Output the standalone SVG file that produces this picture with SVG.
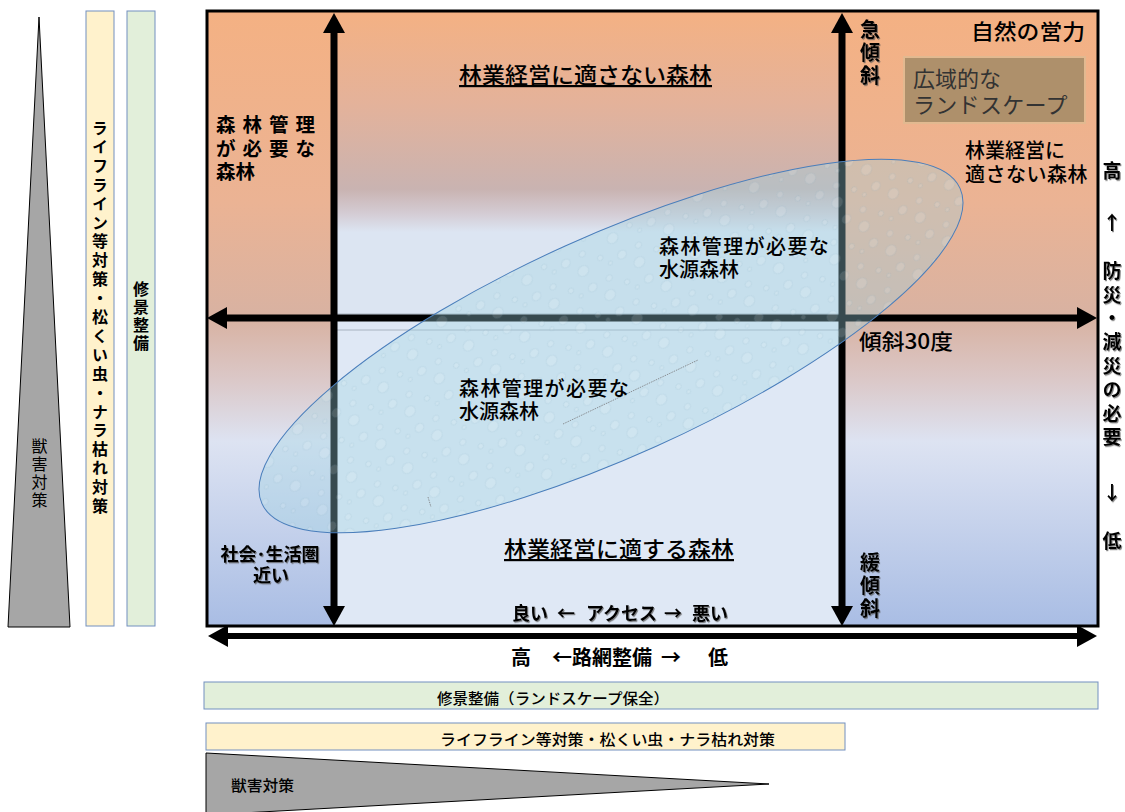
<svg xmlns="http://www.w3.org/2000/svg" width="1125" height="812" viewBox="0 0 1125 812">
<defs>
<style>
.t{font-family:'Noto Sans CJK JP','Noto Sans CJK SC',sans-serif;fill:#000}
.b{font-weight:700}
.m{font-weight:500}
.v{writing-mode:vertical-rl}
.sh{filter:url(#shadow)}
.ax{stroke:#000;stroke-width:7;fill:none;marker-start:url(#ah);marker-end:url(#ah)}
.ax2{stroke:#000;stroke-width:6;fill:none;marker-start:url(#ah);marker-end:url(#ah)}
.bar{stroke:#7290c0;stroke-width:1}
.gl{stroke:#9aa6b2;stroke-width:0.8}
</style>
<linearGradient id="gSide" x1="0" y1="11" x2="0" y2="626" gradientUnits="userSpaceOnUse">
<stop offset="0" stop-color="#f4b183"/>
<stop offset="0.31" stop-color="#ebb394"/>
<stop offset="0.5" stop-color="#d8b2a2"/>
<stop offset="0.6" stop-color="#dbc8c8"/>
<stop offset="0.7" stop-color="#dde3f2"/>
<stop offset="1" stop-color="#a9bde4"/>
</linearGradient>
<linearGradient id="gMid" x1="0" y1="11" x2="0" y2="318" gradientUnits="userSpaceOnUse">
<stop offset="0" stop-color="#f4b183"/>
<stop offset="0.3" stop-color="#e4b29a"/>
<stop offset="0.58" stop-color="#c9b3b1"/>
<stop offset="0.66" stop-color="#d4ccd4"/>
<stop offset="0.72" stop-color="#dce5f2"/>
<stop offset="1" stop-color="#dce5f2"/>
</linearGradient>
<marker id="ah" viewBox="0 0 20 22" refX="2" refY="11" markerWidth="20" markerHeight="22" markerUnits="userSpaceOnUse" orient="auto-start-reverse">
<path d="M0,0 L20,11 L0,22 Z" fill="#000"/>
</marker>
<filter id="shadow" x="-20%" y="-20%" width="140%" height="140%">
<feDropShadow dx="1" dy="1.2" stdDeviation="0.7" flood-color="#555" flood-opacity="0.7"/>
</filter>
<pattern id="drops" width="44" height="36" patternUnits="userSpaceOnUse" patternTransform="rotate(-24)">
<g fill="#ffffff" fill-opacity="0.12" stroke="#4f86a3" stroke-opacity="0.14" stroke-width="0.8">
<ellipse cx="9" cy="8" rx="5" ry="4"/>
<ellipse cx="27" cy="14" rx="3.5" ry="3"/>
<ellipse cx="15" cy="26" rx="6" ry="5"/>
<ellipse cx="36" cy="30" rx="3" ry="2.6"/>
<ellipse cx="39" cy="5" rx="2.2" ry="2"/>
</g>
</pattern>
</defs>

<g id="background">
<rect x="207" y="11" width="127" height="615" fill="url(#gSide)"/>
<rect x="842" y="11" width="256" height="615" fill="url(#gSide)"/>
<rect x="334" y="11" width="508" height="307" fill="url(#gMid)"/>
<rect x="334" y="318" width="508" height="308" fill="#dfe8f5"/>
<line class="gl" x1="337" y1="314" x2="842" y2="314"/>
<line class="gl" x1="337" y1="330" x2="842" y2="330"/>
<rect x="207" y="11" width="891" height="615" fill="none" stroke="#000" stroke-width="3"/>
</g>

<g id="connectors">
<line class="ax" x1="334" y1="31" x2="334" y2="608"/>
<line class="ax" x1="842" y1="31" x2="842" y2="608"/>
<line class="ax" x1="225" y1="318" x2="1079" y2="318"/>
<line class="ax2" x1="226" y1="636" x2="1079" y2="636"/>
</g>

<g id="water-forest-ellipse">
<ellipse cx="611" cy="346" rx="383" ry="110" transform="rotate(-24.3 611 346)" fill="#9dd5e3" fill-opacity="0.35"/>
<ellipse cx="611" cy="346" rx="383" ry="110" transform="rotate(-24.3 611 346)" fill="url(#drops)" stroke="#4a7ebb" stroke-width="1"/>
<line x1="563" y1="424" x2="698" y2="360" stroke="#8a8f94" stroke-width="1" stroke-dasharray="1.5 1"/>
<line x1="428" y1="497" x2="431" y2="507" stroke="#8a8f94" stroke-width="1" stroke-dasharray="1.5 1"/>
<text class="t m" font-size="20"><tspan x="659" y="254" letter-spacing="1.4">森林管理が必要な</tspan><tspan x="659" y="277">水源森林</tspan></text>
<text class="t m" font-size="20"><tspan x="459" y="396" letter-spacing="1.4">森林管理が必要な</tspan><tspan x="459" y="419">水源森林</tspan></text>
</g>

<g id="unsuitable-top">
<text class="t m" x="459" y="83" font-size="22" textLength="253" lengthAdjust="spacingAndGlyphs" text-decoration="underline">林業経営に適さない森林</text>
</g>

<g id="managed-forest-left">
<text class="t b" font-size="19.5"><tspan x="216" y="132" letter-spacing="7">森林管理</tspan><tspan x="216" y="156" letter-spacing="7">が必要な</tspan><tspan x="216" y="179">森林</tspan></text>
</g>

<g id="steep-slope">
<text class="t b v sh" x="870" y="19" font-size="20" letter-spacing="3">急傾斜</text>
</g>

<g id="natural-force">
<text class="t m" x="971" y="39" font-size="21" textLength="114" lengthAdjust="spacingAndGlyphs">自然の営力</text>
</g>

<g id="landscape-box">
<rect x="904" y="57" width="181" height="66" fill="#ae906b" stroke="#e2b990" stroke-width="2"/>
<text class="t" font-size="22" style="fill:#333"><tspan x="913" y="87">広域的な</tspan><tspan x="913" y="113" letter-spacing="0.3">ランドスケープ</tspan></text>
</g>

<g id="unsuitable-right">
<text class="t m" font-size="20"><tspan x="965" y="158">林業経営に</tspan><tspan x="965" y="182" letter-spacing="0.5">適さない森林</tspan></text>
</g>

<g id="disaster-need">
<text class="t b v sh" x="1112" y="161" font-size="19">高</text>
<text class="t b sh" x="1112" y="221" font-size="19" text-anchor="middle" dominant-baseline="central">↑</text>
<text class="t b v sh" x="1112" y="261" font-size="19" letter-spacing="4.8">防災・減災の必要</text>
<text class="t b sh" x="1112" y="491" font-size="19" text-anchor="middle" dominant-baseline="central">↓</text>
<text class="t b v sh" x="1112" y="531" font-size="19">低</text>
</g>

<g id="slope-30">
<text class="t m" x="859" y="349" font-size="21" textLength="94" lengthAdjust="spacingAndGlyphs">傾斜30度</text>
</g>

<g id="near-community">
<text class="t b sh" font-size="18" text-anchor="middle"><tspan x="270" y="561">社会･生活圏</tspan><tspan x="271" y="582">近い</tspan></text>
</g>

<g id="suitable-forest">
<text class="t m" x="504" y="557" font-size="22" textLength="230" lengthAdjust="spacingAndGlyphs" text-decoration="underline">林業経営に適する森林</text>
</g>

<g id="gentle-slope">
<text class="t b v sh" x="870" y="552" font-size="20" letter-spacing="3">緩傾斜</text>
</g>

<g id="access">
<text class="t b sh" y="620" font-size="18"><tspan x="512">良い</tspan><tspan x="557">←</tspan><tspan x="586">アクセス</tspan><tspan x="664">→</tspan><tspan x="692">悪い</tspan></text>
</g>

<g id="road-network">
<text class="t b" y="665" font-size="20"><tspan x="511">高</tspan><tspan x="552">←</tspan><tspan x="572">路網整備</tspan><tspan x="661">→</tspan><tspan x="708">低</tspan></text>
</g>

<g id="bar-landscape-h">
<rect class="bar" x="204" y="682" width="894" height="27" fill="#e2efda"/>
<text class="t m" x="437" y="704" font-size="15" textLength="232" lengthAdjust="spacingAndGlyphs">修景整備（ランドスケープ保全）</text>
</g>

<g id="bar-lifeline-h">
<rect class="bar" x="206" y="723" width="639" height="27" fill="#fff2cc"/>
<text class="t m" x="440" y="745" font-size="15" textLength="335" lengthAdjust="spacingAndGlyphs">ライフライン等対策・松くい虫・ナラ枯れ対策</text>
</g>

<g id="wedge-wildlife-h">
<polygon points="206,753 769,784 206,815" fill="#a6a6a6" stroke="#000" stroke-width="1"/>
<text class="t m" x="231" y="791" font-size="15" textLength="63" lengthAdjust="spacingAndGlyphs">獣害対策</text>
</g>

<g id="wedge-wildlife-v">
<polygon points="39,17 70,627 8,627" fill="#a6a6a6" stroke="#000" stroke-width="1"/>
<text class="t v" x="39.5" y="438" font-size="16" letter-spacing="2">獣害対策</text>
</g>

<g id="bar-lifeline-v">
<rect class="bar" x="86" y="11" width="28" height="615" fill="#fff2cc"/>
<text class="t b v" x="100" y="120" font-size="16" letter-spacing="2.9">ライフライン等対策・松くい虫・ナラ枯れ対策</text>
</g>

<g id="bar-landscape-v">
<rect class="bar" x="127" y="11" width="28" height="615" fill="#e2efda"/>
<text class="t b v" x="141" y="281" font-size="16" letter-spacing="2">修景整備</text>
</g>
</svg>
